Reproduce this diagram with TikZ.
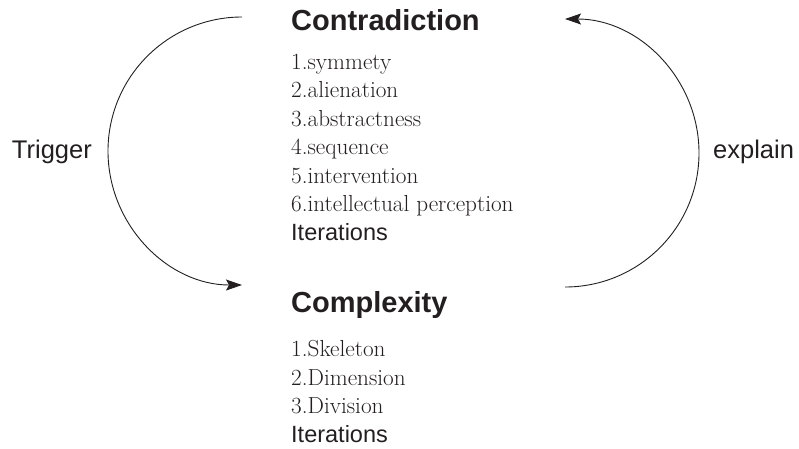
\documentclass[tikz,border=0pt]{standalone}
\usepackage{fontspec}
\setsansfont{Liberation Sans}
\usetikzlibrary{arrows.meta,positioning}
\definecolor{ink}{HTML}{231F20}

\newcommand{\iterline}{{\sffamily\fontsize{23.5}{28.5}\selectfont Iterations}}

\begin{document}
\begin{tikzpicture}[
    x=1pt, y=1pt,
    headline/.style={inner sep=0pt, anchor=base west, font=\sffamily\bfseries\fontsize{29}{34}\selectfont, text=ink},
    items/.style={inner sep=0pt, anchor=base west, align=left, font=\fontsize{23.2}{28.5}\selectfont, text=ink},
    cyclabel/.style={inner sep=0pt, font=\sffamily\fontsize{25.5}{30}\selectfont, text=ink},
    arrow/.style={-{Stealth[length=16pt, width=11pt, inset=3pt]}, line width=0.9pt, draw=ink},
]
    \useasboundingbox (0,0) rectangle (799,-448);

    \node[headline] (contra) at (291,-30) {Contradiction};
    \node[items] (contraList) at (291,-240) {1.symmety\\2.alienation\\3.abstractness\\4.sequence\\5.intervention\\6.intellectual perception\\\iterline};

    \node[headline] (complex) at (291,-312) {Complexity};
    \node[items] (complexList) at (291,-442) {1.Skeleton\\2.Dimension\\3.Division\\\iterline};

    \coordinate (trigStart) at (242,-17);
    \coordinate (explStart) at (565,-287);

    \draw[arrow] (trigStart) arc[start angle=90, end angle=270, radius=134];
    \draw[arrow] (explStart) arc[start angle=-90, end angle=90, radius=134];

    \node[cyclabel, anchor=base east] (trigger) at (92,-158) {Trigger};
    \node[cyclabel, anchor=base west] (explain) at (713,-158) {explain};
\end{tikzpicture}
\end{document}
